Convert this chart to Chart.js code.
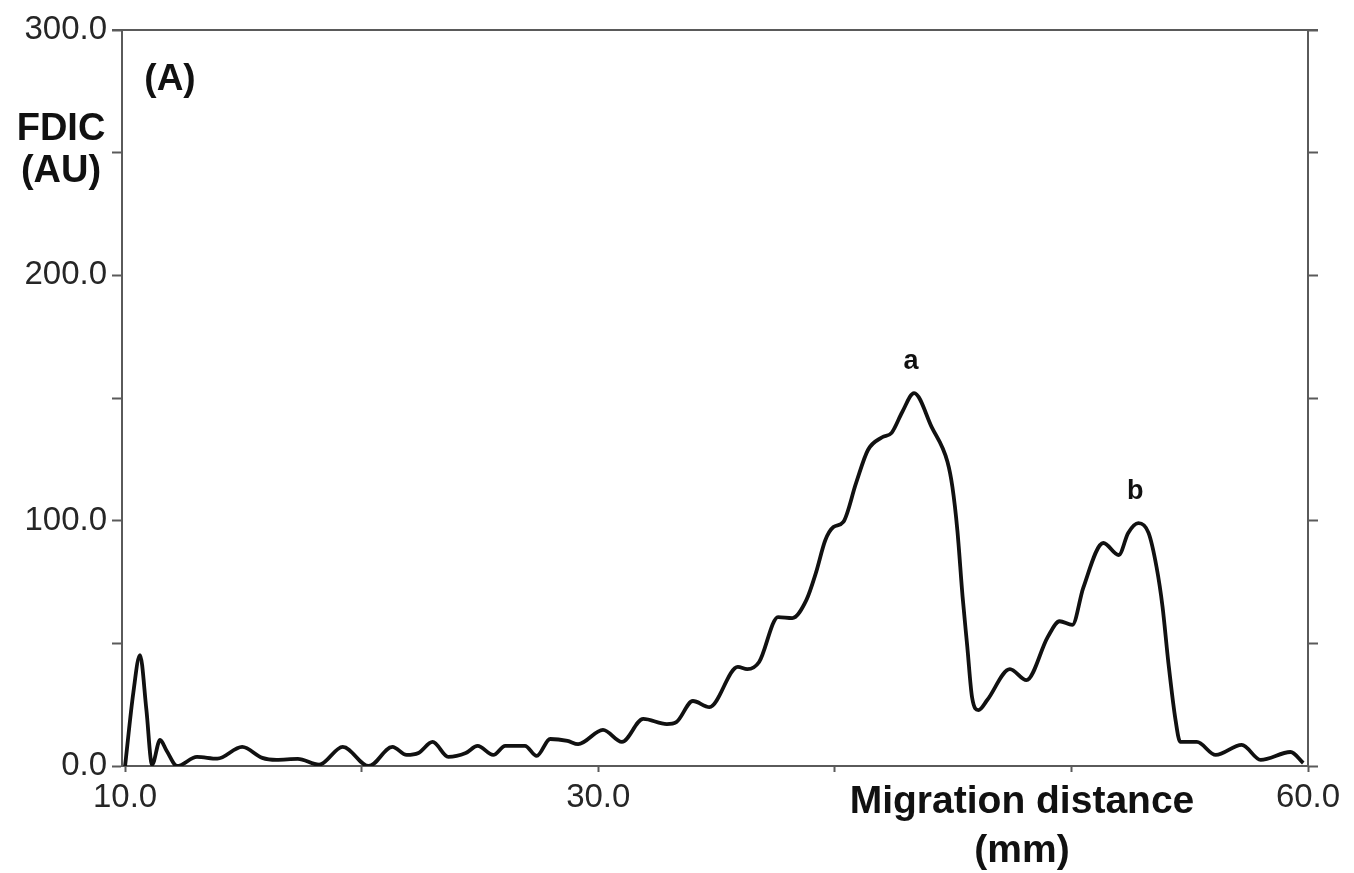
<!DOCTYPE html>
<html>
<head>
<meta charset="utf-8">
<script src="https://cdn.jsdelivr.net/npm/chart.js@4.4.1/dist/chart.umd.min.js"></script>
<style>
  html, body { margin: 0; padding: 0; background: #ffffff; }
  #wrap { width: 1354px; height: 873px; position: relative; }
</style>
</head>
<body>
<div id="wrap"><canvas id="c" width="1354" height="873"></canvas></div>
<script>
// Densitometric scan: migration distance (mm) vs FDIC intensity (AU)
const distance = [
  10.0, 10.35, 10.63, 10.9, 11.14, 11.48, 11.75, 12.2, 13.04, 13.9,
  14.95, 15.8, 16.4, 17.3, 18.2, 19.2, 20.3, 21.3, 21.9, 22.4,
  23.0, 23.66, 24.4, 24.9, 25.56, 26.07, 26.9, 27.4, 27.97, 28.7,
  29.15, 30.2, 31.0, 31.9, 32.9, 33.3, 34.0, 34.7, 35.9, 36.3,
  36.8, 37.6, 38.2, 38.8, 39.2, 39.6, 39.94, 40.36, 40.9, 41.4,
  42.0, 42.4, 42.85, 43.35, 44.1, 44.76, 44.97, 45.18, 45.4, 45.6,
  45.8, 46.07, 46.45, 47.4, 48.1, 49.0, 49.5, 50.04, 50.5, 51.35,
  52.0, 52.4, 52.83, 53.26, 53.6, 53.85, 54.1, 54.4, 54.6, 55.3,
  56.1, 57.2, 58.0, 59.26, 59.8
];
const fdic = [
  0, 30, 45.2, 23, 0.5, 10.6, 6.3, 0, 3.7, 3,
  7.8, 3.3, 2.5, 2.9, 0.5, 7.8, 0, 7.8, 4.5, 5.3,
  9.8, 3.7, 5.3, 8.2, 4.5, 8.2, 8.2, 4.1, 11, 10.2,
  8.9, 14.7, 9.8, 19.2, 17.1, 17.9, 26.5, 24, 40.4, 39.5,
  42.4, 60.7, 60.3, 67.7, 78.7, 92.1, 97.4, 99.5, 115.4, 128.8,
  134, 135.8, 144.3, 152, 138, 124, 113.7, 96, 69, 48.5,
  28, 22.8, 27, 39.5, 35, 52.6, 59, 57.5, 72.6, 90.9,
  86, 95, 99, 95, 81, 65, 42, 18.8, 9.8, 9.8,
  4.5, 8.6, 2.5, 5.7, 1.2
];
const xTickValues = [10, 20, 30, 40, 50, 60];
const xLabelTicks = [10, 30, 60];
const yLabelTicks = [0, 100, 200, 300];
const peakNames = ['a', 'b'];
const peakDistance = [43.35, 52.83];
const peakFdic = [152, 99];

const AXIS_GREY = '#5a5a5a';
const TEXT = '#262626';
const FONT = "'Liberation Sans', Arial, sans-serif";

const points = distance.map((d, i) => ({ x: d, y: fdic[i] }));

const annotations = {
  id: 'annotations',
  afterDraw(chart) {
    const { ctx, chartArea, scales } = chart;
    ctx.save();
    // top frame line
    ctx.strokeStyle = AXIS_GREY;
    ctx.lineWidth = 2;
    ctx.beginPath();
    ctx.moveTo(chartArea.left - 10, chartArea.top);
    ctx.lineTo(chartArea.right + 10, chartArea.top);
    ctx.stroke();

    ctx.fillStyle = '#111';
    ctx.textBaseline = 'alphabetic';
    ctx.textAlign = 'center';
    ctx.font = "bold 37px " + FONT;
    ctx.fillText('(A)', 170, 90);
    ctx.font = "bold 38px " + FONT;
    ctx.fillText('FDIC', 61, 140);
    ctx.fillText('(AU)', 61, 182);
    ctx.font = "bold 39px " + FONT;
    ctx.fillText('Migration distance', 1022, 813);
    ctx.fillText('(mm)', 1022, 862);

    // peak letters
    ctx.font = "bold 27px " + FONT;
    ctx.textBaseline = 'alphabetic';
    peakNames.forEach((name, i) => {
      const px = scales.x.getPixelForValue(peakDistance[i]);
      const py = scales.y.getPixelForValue(peakFdic[i]);
      ctx.fillText(name, px - 3, py - 24);
    });
    ctx.restore();
  }
};

new Chart(document.getElementById('c'), {
  type: 'line',
  data: {
    datasets: [{
      data: points,
      borderColor: '#111111',
      borderWidth: 3.8,
      pointRadius: 0,
      fill: false,
      cubicInterpolationMode: 'monotone'
    }]
  },
  options: {
    responsive: false,
    animation: false,
    events: [],
    layout: { padding: { left: 0, top: 30, right: 34, bottom: 0 } },
    plugins: { legend: { display: false }, tooltip: { enabled: false } },
    scales: {
      x: {
        type: 'linear',
        min: 9.87,
        max: 60,
        afterFit(s) { s.height = 107; },
        afterBuildTicks(s) {
          s.ticks = xTickValues.map(v => ({ value: v }));
        },
        ticks: {
          autoSkip: false,
          maxRotation: 0,
          minRotation: 0,
          padding: 6,
          color: TEXT,
          font: { family: FONT, size: 33 },
          callback: v => xLabelTicks.includes(v) ? v.toFixed(1) : ''
        },
        grid: { drawOnChartArea: false, tickLength: 6, color: AXIS_GREY, tickWidth: 2 },
        border: { color: AXIS_GREY, width: 2 }
      },
      y: {
        type: 'linear',
        min: 0,
        max: 300,
        afterFit(s) { s.width = 122; },
        ticks: {
          stepSize: 50,
          padding: 5,
          color: TEXT,
          font: { family: FONT, size: 33 },
          callback: v => yLabelTicks.includes(v) ? v.toFixed(1) : ''
        },
        grid: { drawOnChartArea: false, tickLength: 10, color: AXIS_GREY, tickWidth: 2 },
        border: { color: AXIS_GREY, width: 2 }
      },
      y2: {
        type: 'linear',
        position: 'right',
        min: 0,
        max: 300,
        afterFit(s) { s.width = 12; },
        ticks: { stepSize: 50, padding: 0, callback: () => '' },
        grid: { drawOnChartArea: false, tickLength: 10, color: AXIS_GREY, tickWidth: 2 },
        border: { color: AXIS_GREY, width: 2 }
      }
    }
  },
  plugins: [annotations]
});
</script>
</body>
</html>
